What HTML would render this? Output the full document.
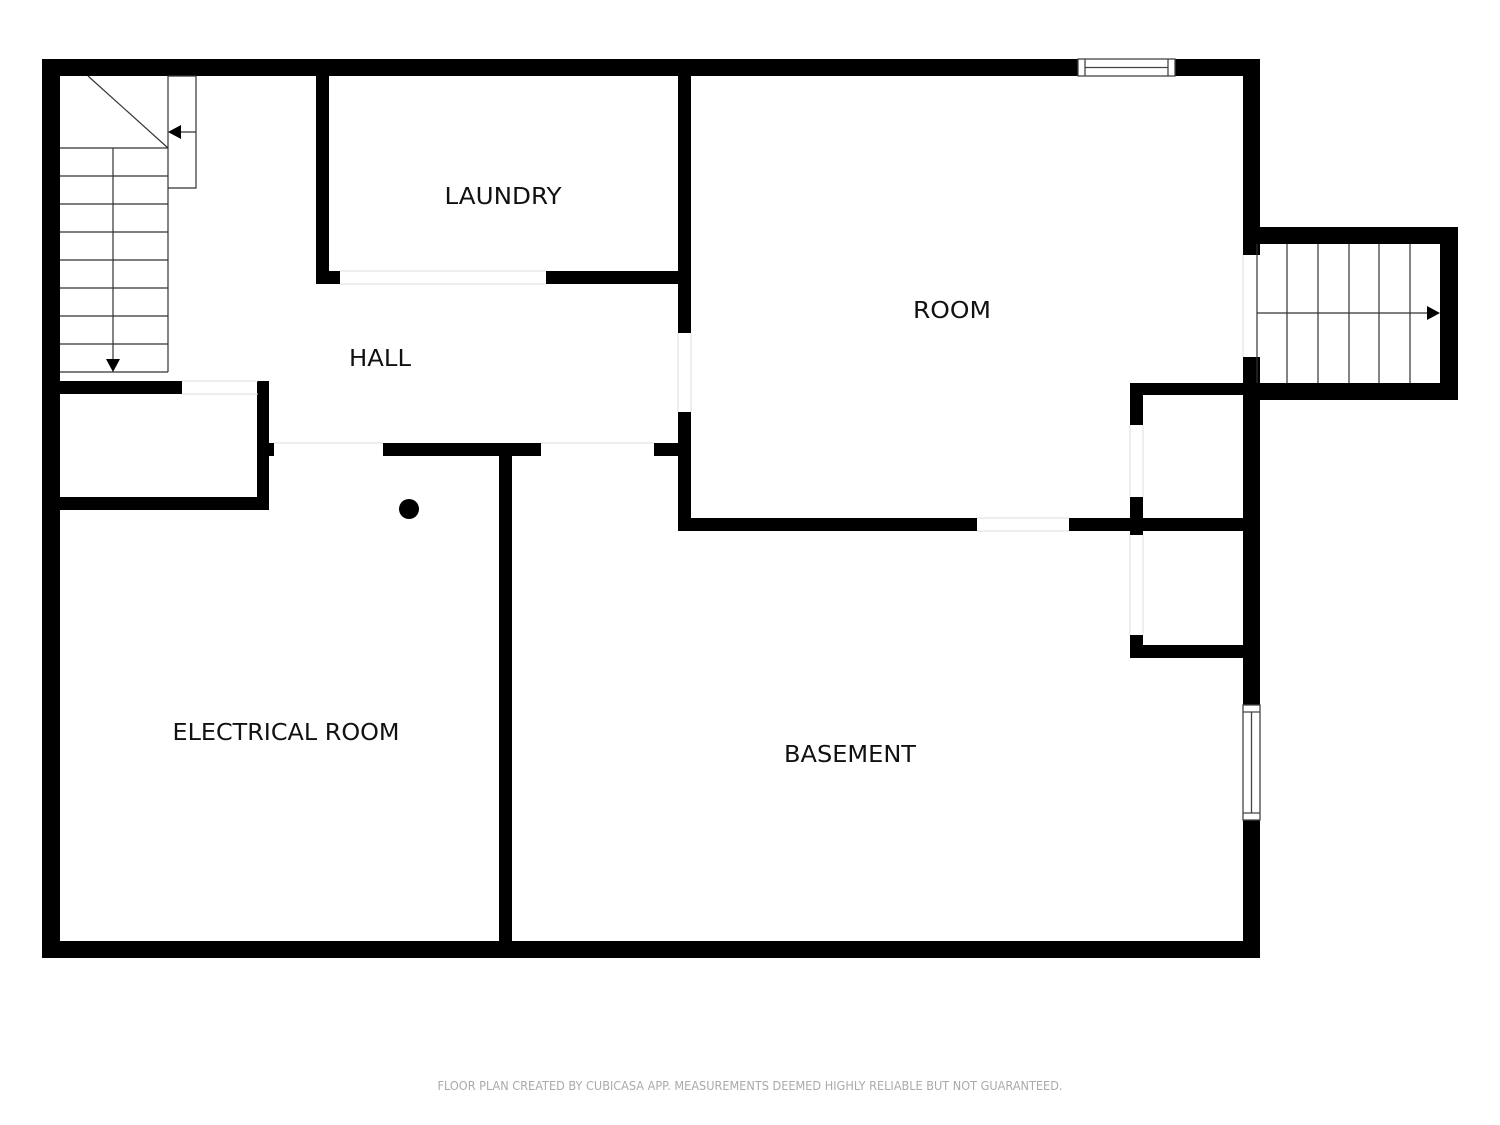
<!DOCTYPE html>
<html><head><meta charset="utf-8"><style>
html,body{margin:0;padding:0;background:#fff;}
svg{display:block;}
text{font-family:"DejaVu Sans","Liberation Sans",sans-serif;}
</style></head><body>
<svg width="1500" height="1125" viewBox="0 0 1500 1125" xmlns="http://www.w3.org/2000/svg">
<g fill="#000">
<!-- outer walls -->
<rect x="42" y="59" width="1036" height="17"/>
<rect x="1175" y="59" width="85" height="17"/>
<rect x="42" y="59" width="18" height="899"/>
<rect x="42" y="941" width="1218" height="17"/>
<rect x="1243" y="59" width="17" height="196"/>
<rect x="1243" y="357" width="17" height="348"/>
<rect x="1243" y="820" width="17" height="138"/>
<!-- right stair box -->
<rect x="1243" y="227" width="215" height="17"/>
<rect x="1440" y="227" width="18" height="173"/>
<rect x="1243" y="383" width="215" height="17"/>
<!-- laundry -->
<rect x="316" y="59" width="13" height="225"/>
<rect x="316" y="271" width="24" height="13"/>
<rect x="546" y="271" width="145" height="13"/>
<rect x="678" y="59" width="13" height="274"/>
<rect x="678" y="412" width="13" height="119"/>
<!-- room bottom -->
<rect x="678" y="518" width="299" height="13"/>
<rect x="1069" y="518" width="174" height="13"/>
<!-- closets -->
<rect x="1130" y="383" width="13" height="42"/>
<rect x="1130" y="497" width="13" height="38"/>
<rect x="1130" y="635" width="13" height="23"/>
<rect x="1130" y="383" width="113" height="12"/>
<rect x="1130" y="645" width="113" height="13"/>
<!-- hall bottom -->
<rect x="257" y="443" width="17" height="13"/>
<rect x="383" y="443" width="158" height="13"/>
<rect x="654" y="443" width="37" height="13"/>
<rect x="499" y="443" width="13" height="515"/>
<!-- small left closet -->
<rect x="42" y="381" width="140" height="13"/>
<rect x="257" y="381" width="12" height="129"/>
<rect x="42" y="497" width="227" height="13"/>
<circle cx="409" cy="509" r="10"/>
</g>
<!-- door thresholds -->
<g fill="none" stroke="#ddd" stroke-width="1">
<line x1="340" y1="271" x2="546" y2="271"/><line x1="340" y1="284" x2="546" y2="284"/>
<line x1="182" y1="381" x2="258" y2="381"/><line x1="182" y1="394" x2="258" y2="394"/>
<line x1="274" y1="443" x2="383" y2="443"/>
<line x1="541" y1="443" x2="654" y2="443"/>
<line x1="678" y1="333" x2="678" y2="412"/><line x1="691" y1="333" x2="691" y2="412"/>
<line x1="977" y1="518" x2="1069" y2="518"/><line x1="977" y1="531" x2="1069" y2="531"/>
<line x1="1243" y1="255" x2="1243" y2="357"/>
<line x1="1130" y1="425" x2="1130" y2="497"/><line x1="1143" y1="425" x2="1143" y2="497"/>
<line x1="1130" y1="535" x2="1130" y2="635"/><line x1="1143" y1="535" x2="1143" y2="635"/>
</g>
<!-- windows -->
<g fill="#fff" stroke="#444" stroke-width="1.3">
<rect x="1078" y="59" width="97" height="17"/>
<line x1="1085" y1="59" x2="1085" y2="76"/><line x1="1168" y1="59" x2="1168" y2="76"/>
<line x1="1085" y1="67.5" x2="1168" y2="67.5"/>
<rect x="1243" y="705" width="17" height="115"/>
<line x1="1243" y1="712" x2="1260" y2="712"/><line x1="1243" y1="813" x2="1260" y2="813"/>
<line x1="1251.5" y1="712" x2="1251.5" y2="813"/>
</g>
<!-- left stairs -->
<g fill="none" stroke="#333" stroke-width="1.2">
<line x1="88" y1="76" x2="168" y2="148"/>
<line x1="168" y1="76" x2="168" y2="372"/>
<polyline points="168,76 196,76 196,188 168,188"/>
<line x1="196" y1="132" x2="178" y2="132"/>
<line x1="60" y1="148" x2="168" y2="148"/>
<line x1="60" y1="176" x2="168" y2="176"/>
<line x1="60" y1="204" x2="168" y2="204"/>
<line x1="60" y1="232" x2="168" y2="232"/>
<line x1="60" y1="260" x2="168" y2="260"/>
<line x1="60" y1="288" x2="168" y2="288"/>
<line x1="60" y1="316" x2="168" y2="316"/>
<line x1="60" y1="344" x2="168" y2="344"/>
<line x1="60" y1="372" x2="168" y2="372"/>
<line x1="113" y1="148" x2="113" y2="362"/>
</g>
<polygon points="168,132 181,125 181,139" fill="#000"/>
<polygon points="113,372 106,359 120,359" fill="#000"/>
<!-- right stairs -->
<g fill="none" stroke="#333" stroke-width="1.2">
<line x1="1257" y1="244" x2="1257" y2="383"/>
<line x1="1287" y1="244" x2="1287" y2="383"/>
<line x1="1318" y1="244" x2="1318" y2="383"/>
<line x1="1349" y1="244" x2="1349" y2="383"/>
<line x1="1379" y1="244" x2="1379" y2="383"/>
<line x1="1410" y1="244" x2="1410" y2="383"/>
<line x1="1257" y1="313" x2="1430" y2="313"/>
</g>
<polygon points="1440,313 1427,306 1427,320" fill="#000"/>
<!-- labels -->
<g font-size="23" fill="#111" text-anchor="middle">
<text x="503" y="204" textLength="117" lengthAdjust="spacingAndGlyphs">LAUNDRY</text>
<text x="380" y="366" textLength="62" lengthAdjust="spacingAndGlyphs">HALL</text>
<text x="952" y="318" textLength="78" lengthAdjust="spacingAndGlyphs">ROOM</text>
<text x="286" y="740" textLength="227" lengthAdjust="spacingAndGlyphs">ELECTRICAL ROOM</text>
<text x="850" y="762" textLength="132" lengthAdjust="spacingAndGlyphs">BASEMENT</text>
</g>
<text x="750" y="1090" font-size="12" fill="#aaa" text-anchor="middle" textLength="625" lengthAdjust="spacingAndGlyphs">FLOOR PLAN CREATED BY CUBICASA APP. MEASUREMENTS DEEMED HIGHLY RELIABLE BUT NOT GUARANTEED.</text>
</svg>
</body></html>
